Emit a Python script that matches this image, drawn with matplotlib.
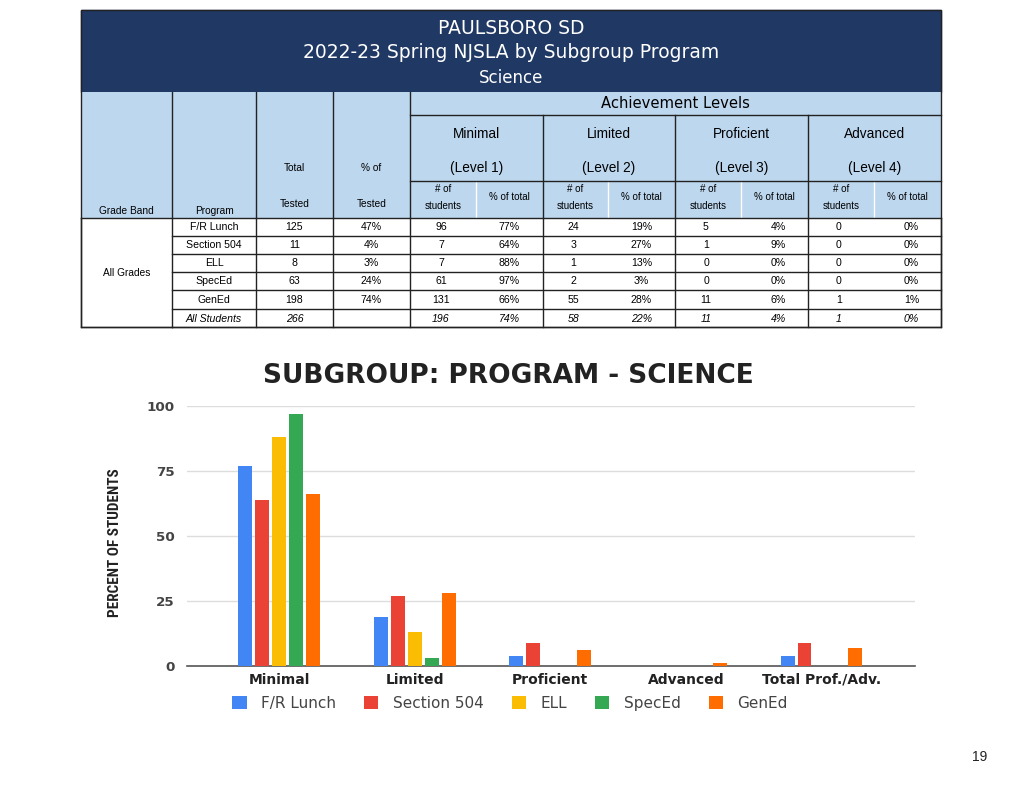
import matplotlib
matplotlib.use("Agg")
import matplotlib.pyplot as plt
from matplotlib.patches import Rectangle
import numpy as np

# ---------------- data ----------------
programs = ["F/R Lunch", "Section 504", "ELL", "SpecEd", "GenEd", "All Students"]
total_tested = ["125", "11", "8", "63", "198", "266"]
pct_tested = ["47%", "4%", "3%", "24%", "74%", ""]
lvl1_n = ["96", "7", "7", "61", "131", "196"]
lvl1_p = ["77%", "64%", "88%", "97%", "66%", "74%"]
lvl2_n = ["24", "3", "1", "2", "55", "58"]
lvl2_p = ["19%", "27%", "13%", "3%", "28%", "22%"]
lvl3_n = ["5", "1", "0", "0", "11", "11"]
lvl3_p = ["4%", "9%", "0%", "0%", "6%", "4%"]
lvl4_n = ["0", "0", "0", "0", "1", "1"]
lvl4_p = ["0%", "0%", "0%", "0%", "1%", "0%"]
levels = ["Minimal", "Limited", "Proficient", "Advanced"]
level_sub = ["(Level 1)", "(Level 2)", "(Level 3)", "(Level 4)"]

categories = ["Minimal", "Limited", "Proficient", "Advanced", "Total Prof./Adv."]
series_names = ["F/R Lunch", "Section 504", "ELL", "SpecEd", "GenEd"]
fr_lunch = [77, 19, 4, 0, 4]
section504 = [64, 27, 9, 0, 9]
ell = [88, 13, 0, 0, 0]
speced = [97, 3, 0, 0, 0]
gened = [66, 28, 6, 1, 7]
series_colors = ["#4285F4", "#EA4335", "#FBBC04", "#34A853", "#FF6D01"]

NAVY = "#203864"
LBLUE = "#BDD7EE"
TFONT = ["Liberation Sans", "DejaVu Sans"]
HFONT = ["DejaVu Sans"]
COND = ["Roboto Condensed", "DejaVu Sans"]
CFONT = ["DejaVu Sans"]

fig = plt.figure(figsize=(10.24, 7.91), dpi=100)
fig.patch.set_facecolor("white")

# ---------------- table (pixel coords) ----------------
tab = fig.add_axes([0, 0, 1, 1])
tab.set_xlim(0, 1024)
tab.set_ylim(791, 0)
tab.axis("off")

L, R = 81, 941
cols = [81, 172, 256, 333, 410, 543, 675, 808, 941]
subs = [476, 608, 741, 874]
rows = [218, 236, 254, 272, 290, 309, 327]

# title band
tab.add_patch(Rectangle((L, 10), R - L, 82, facecolor=NAVY, edgecolor=NAVY))
tab.text(511, 29, "PAULSBORO SD", color="white", fontsize=13.5, ha="center",
         va="center", family=HFONT)
tab.text(511, 53, "2022-23 Spring NJSLA by Subgroup Program", color="white",
         fontsize=13.5, ha="center", va="center", family=HFONT)
tab.text(511, 78, "Science", color="white", fontsize=12, ha="center",
         va="center", family=HFONT)

# header band
tab.add_patch(Rectangle((L, 92), R - L, 218 - 92, facecolor=LBLUE, edgecolor="none"))
lw = 1.0
for x in cols[1:5]:
    tab.plot([x, x], [92, 218], color="#222222", lw=lw)
for x in cols[5:8]:
    tab.plot([x, x], [115, 218], color="#222222", lw=lw)
for x in subs:
    tab.plot([x, x], [181, 218], color="white", lw=1.0)
tab.plot([410, R], [115, 115], color="#222222", lw=lw)
tab.plot([410, R], [181, 181], color="#222222", lw=lw)
tab.plot([L, R], [218, 218], color="#222222", lw=lw)

tab.text(675, 103, "Achievement Levels", fontsize=10.6, ha="center", va="center",
         family=HFONT)
for i in range(4):
    cx = (cols[4 + i] + cols[5 + i]) / 2
    tab.text(cx, 134, levels[i], fontsize=9.8, ha="center", va="center", family=TFONT)
    tab.text(cx, 168, level_sub[i], fontsize=9.8, ha="center", va="center", family=TFONT)
    xl = (cols[4 + i] + subs[i]) / 2
    xr = (subs[i] + cols[5 + i]) / 2
    tab.text(xl, 189, "# of", fontsize=7, ha="center", va="center", family=TFONT)
    tab.text(xl, 206, "students", fontsize=7, ha="center", va="center", family=TFONT)
    tab.text(xr, 197, "% of total", fontsize=7, ha="center", va="center", family=TFONT)

tab.text((cols[0] + cols[1]) / 2, 211, "Grade Band", fontsize=7.3, ha="center", va="center", family=TFONT)
tab.text((cols[1] + cols[2]) / 2, 211, "Program", fontsize=7.3, ha="center", va="center", family=TFONT)
tab.text((cols[2] + cols[3]) / 2, 168, "Total", fontsize=7.3, ha="center", va="center", family=TFONT)
tab.text((cols[2] + cols[3]) / 2, 204, "Tested", fontsize=7.3, ha="center", va="center", family=TFONT)
tab.text((cols[3] + cols[4]) / 2, 168, "% of", fontsize=7.3, ha="center", va="center", family=TFONT)
tab.text((cols[3] + cols[4]) / 2, 204, "Tested", fontsize=7.3, ha="center", va="center", family=TFONT)

# data rows
for y in rows[1:]:
    tab.plot([172, R], [y, y], color="#222222", lw=lw)
tab.plot([L, 172], [327, 327], color="#222222", lw=lw)
for x in cols:
    tab.plot([x, x], [218, 327], color="#222222", lw=lw)
tab.text((cols[0] + cols[1]) / 2, 273, "All Grades", fontsize=7.3, ha="center", va="center", family=TFONT)

cell_cols = [
    (programs, (cols[1] + cols[2]) / 2),
    (total_tested, (cols[2] + cols[3]) / 2),
    (pct_tested, (cols[3] + cols[4]) / 2),
    (lvl1_n, (cols[4] + subs[0]) / 2 - 2), (lvl1_p, (subs[0] + cols[5]) / 2),
    (lvl2_n, (cols[5] + subs[1]) / 2 - 2), (lvl2_p, (subs[1] + cols[6]) / 2),
    (lvl3_n, (cols[6] + subs[2]) / 2 - 2), (lvl3_p, (subs[2] + cols[7]) / 2 + 4),
    (lvl4_n, (cols[7] + subs[3]) / 2 - 2), (lvl4_p, (subs[3] + cols[8]) / 2 + 4),
]
for vals, cx in cell_cols:
    for r, v in enumerate(vals):
        cy = (rows[r] + rows[r + 1]) / 2 + 0.5
        style = "italic" if r == len(vals) - 1 else "normal"
        tab.text(cx, cy, v, fontsize=7.6, ha="center", va="center",
                 family=TFONT, style=style)

# outer border
tab.add_patch(Rectangle((L, 10), R - L, 317, facecolor="none", edgecolor="#222222", lw=1.0))

# page number
tab.text(980, 757, "19", fontsize=10, ha="center", va="center", family=TFONT, color="#222222")

# chart title and y label
tab.text(508, 376, "SUBGROUP: PROGRAM - SCIENCE", fontsize=19, fontweight="bold",
         ha="center", va="center", family=CFONT, color="#222222")
tab.text(115, 543, "PERCENT OF STUDENTS", fontsize=11, fontweight="bold", rotation=90,
         ha="center", va="center", family=COND, color="#222222")

# ---------------- bar chart ----------------
ax = fig.add_axes([187 / 1024, (791 - 666) / 791, 728 / 1024, 260 / 791])
data = [fr_lunch, section504, ell, speced, gened]
x = np.arange(len(categories))
bw = 0.103
step = 0.125
for i, (vals, col, name) in enumerate(zip(data, series_colors, series_names)):
    ax.bar(x + (i - 2) * step, vals, width=bw, color=col, label=name, zorder=3)

ax.set_xlim(-0.68, 4.69)
ax.set_ylim(0, 100)
ax.set_yticks([0, 25, 50, 75, 100])
ax.yaxis.grid(True, color="#dddddd", lw=1, zorder=0)
ax.set_axisbelow(True)
for s in ["top", "right", "left"]:
    ax.spines[s].set_visible(False)
ax.spines["bottom"].set_color("#555555")
ax.spines["bottom"].set_linewidth(1.2)
ax.tick_params(axis="both", length=0)
ax.tick_params(axis="y", pad=9)
ax.tick_params(axis="x", pad=5)
ax.set_xticks(x)
ax.set_xticklabels(categories, fontsize=10, fontweight="bold", family=CFONT, color="#222222")
for lab in ax.get_yticklabels():
    lab.set_fontsize(9.7)
    lab.set_fontweight("bold")
    lab.set_family(CFONT)
    lab.set_color("#444444")

leg = ax.legend(loc="center", bbox_to_anchor=(0.444, -0.145), ncol=5, frameon=False,
                prop={"family": CFONT, "size": 11}, handlelength=0.92, handleheight=0.92,
                columnspacing=1.85, handletextpad=0.95)
for t in leg.get_texts():
    t.set_color("#444444")

fig.savefig("out.png", dpi=100, facecolor="white")
